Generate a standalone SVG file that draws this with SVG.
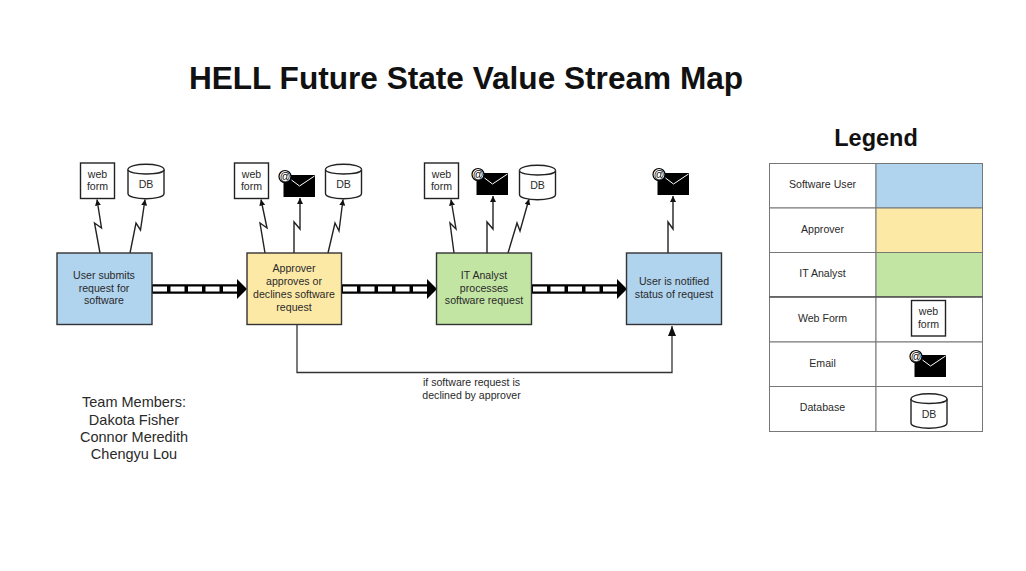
<svg xmlns="http://www.w3.org/2000/svg" width="1026" height="571" viewBox="0 0 1026 571">
<style>
text{font-family:"Liberation Sans",Arial,sans-serif;fill:#2a2a2a;text-anchor:middle}
.s{font-size:10.6px}
.box{stroke:#333;stroke-width:1.4}
.ic{fill:#fff;stroke:#222;stroke-width:1.4}
.bolt{fill:none;stroke:#222;stroke-width:1.4;marker-end:url(#ah)}
.cell{fill:#fff;stroke:#777;stroke-width:1}
.blue{fill:#b0d3ee}.yellow{fill:#fde9a6}.green{fill:#c3e5a4}
.env{fill:#000}
.flap{fill:none;stroke:#fff;stroke-width:1}
.at{fill:#fff;stroke:#000;stroke-width:1.200}
.atT{font-size:10.500px;fill:#000}
.pb{fill:none;stroke:#000;stroke-width:9.500}
.pw{fill:none;stroke:#fff;stroke-width:5;stroke-dasharray:14 3.500}
</style>
<defs>
<marker id="ah" markerUnits="userSpaceOnUse" markerWidth="8" markerHeight="8" refX="6" refY="3" orient="auto"><path d="M0 0L6 3L0 6Z" fill="#111"/></marker>
<marker id="ah2" markerUnits="userSpaceOnUse" markerWidth="12" markerHeight="12" refX="10" refY="4" orient="auto"><path d="M0 0L10 4L0 8Z" fill="#111"/></marker>
<g id="webform"><rect class="ic" x="0" y="0" width="34" height="35.500"/><text class="s" x="17" y="14.500">web</text><text class="s" x="17" y="27">form</text></g>
<g id="db"><path class="ic" d="M0 5.500C0 -1.500 36 -1.500 36 5.500V29.500C36 36.500 0 36.500 0 29.500Z"/><path class="ic" fill="none" d="M0 5.500C0 11.500 36 11.500 36 5.500"/><text class="s" x="18" y="24">DB</text></g>
<g id="mail"><rect class="env" x="4" y="5" width="31.500" height="22"/><path class="flap" d="M12 10L20 16L35 6"/><circle class="at" cx="5.500" cy="6.500" r="6"/><text class="atT" x="5.500" y="10">@</text></g>
</defs>
<text x="466" y="89" font-size="31.600" font-weight="bold" style="fill:#111">HELL Future State Value Stream Map</text>
<g id="connectors">
<g class="push">
<path class="pb" d="M152 289H238"/><path class="pw" d="M153 289H238"/><path d="M237 279L247 289L237 299Z" fill="#000"/>
<path class="pb" d="M342 289H428"/><path class="pw" d="M343 289H428"/><path d="M427 279L437 289L427 299Z" fill="#000"/>
<path class="pb" d="M532 289H618"/><path class="pw" d="M533 289H618"/><path d="M617 279L627 289L617 299Z" fill="#000"/>
</g>
<path class="bolt" d="M100 253L94.500 223L101.500 228L97 199.500"/>
<path class="bolt" d="M130 253L136 223L140.500 230L145 199.500"/>
<path class="bolt" d="M265 253L260 223L267 228L261 199.500"/>
<path class="bolt" d="M294 253V222L300 229V198"/>
<path class="bolt" d="M328 253L335 223L339 231L343 199.500"/>
<path class="bolt" d="M454 253L450 223L456 229L451 199.500"/>
<path class="bolt" d="M487 253V222L493 229V196"/>
<path class="bolt" d="M508 253L517 223L520 231L529 199"/>
<path class="bolt" d="M668 253V222L673 229V196"/>
<path fill="none" stroke="#333" stroke-width="1.300" marker-end="url(#ah2)" d="M297 325V372.500H672V326"/>
</g>
<g id="node-submit"><rect class="box blue" x="57" y="253" width="95" height="71.500"/><text class="s" x="104" y="278.500">User submits</text><text class="s" x="104" y="291.500">request for</text><text class="s" x="104" y="304">software</text></g>
<g id="node-approve"><rect class="box yellow" x="247" y="253" width="94.500" height="71.500"/><text class="s" x="294" y="272">Approver</text><text class="s" x="294" y="285">approves or</text><text class="s" x="294" y="297.500">declines software</text><text class="s" x="294" y="310.500">request</text></g>
<g id="node-process"><rect class="box green" x="436.500" y="253" width="95" height="71.500"/><text class="s" x="484" y="278.500">IT Analyst</text><text class="s" x="484" y="291.500">processes</text><text class="s" x="484" y="304">software request</text></g>
<g id="node-notify"><rect class="box blue" x="626.500" y="253" width="95" height="71.500"/><text class="s" x="674" y="285">User is notified</text><text class="s" x="674" y="297.500">status of request</text></g>
<g id="node-web1"><use href="#webform" x="80.500" y="163"/></g>
<g id="node-db1"><use href="#db" x="128" y="164"/></g>
<g id="node-web2"><use href="#webform" x="234.500" y="163"/></g>
<g id="node-mail2"><use href="#mail" x="279.500" y="170"/></g>
<g id="node-db2"><use href="#db" x="325.500" y="164"/></g>
<g id="node-web3"><use href="#webform" x="424.500" y="163"/></g>
<g id="node-mail3"><use href="#mail" x="472.500" y="168"/></g>
<g id="node-db3"><use href="#db" x="519.500" y="165"/></g>
<g id="node-mail4"><use href="#mail" x="653.500" y="168"/></g>
<text class="s" x="471.500" y="385.500">if software request is</text><text class="s" x="471.500" y="398.500">declined by approver</text>
<g id="team" font-size="14.500"><text x="134" y="407">Team Members:</text><text x="134" y="425">Dakota Fisher</text><text x="134" y="442">Connor Meredith</text><text x="134" y="459">Chengyu Lou</text></g>
<g id="legend">
<text x="876" y="146" font-size="23.500" font-weight="bold" style="fill:#111">Legend</text>
<rect class="cell" x="769.500" y="163.500" width="106.500" height="44.500"/><rect class="cell blue" x="876" y="163.500" width="106.500" height="44.500"/>
<rect class="cell" x="769.500" y="208" width="106.500" height="44.500"/><rect class="cell yellow" x="876" y="208" width="106.500" height="44.500"/>
<rect class="cell" x="769.500" y="252.500" width="106.500" height="44.500"/><rect class="cell green" x="876" y="252.500" width="106.500" height="44.500"/>
<rect class="cell" x="769.500" y="297" width="106.500" height="45"/><rect class="cell" x="876" y="297" width="106.500" height="45"/>
<rect class="cell" x="769.500" y="342" width="106.500" height="44.500"/><rect class="cell" x="876" y="342" width="106.500" height="44.500"/>
<rect class="cell" x="769.500" y="386.500" width="106.500" height="45"/><rect class="cell" x="876" y="386.500" width="106.500" height="45"/>
<path d="M769.500 297H982.500" stroke="#333" stroke-width="1.200"/>
<text class="s" x="822.500" y="188">Software User</text><text class="s" x="822.500" y="232.500">Approver</text><text class="s" x="822.500" y="277">IT Analyst</text><text class="s" x="822.500" y="322">Web Form</text><text class="s" x="822.500" y="366.500">Email</text><text class="s" x="822.500" y="411">Database</text>
<use href="#webform" x="911.500" y="300.500"/><use href="#mail" x="910.500" y="350"/><use href="#db" x="911" y="393.500"/>
</g>
</svg>
